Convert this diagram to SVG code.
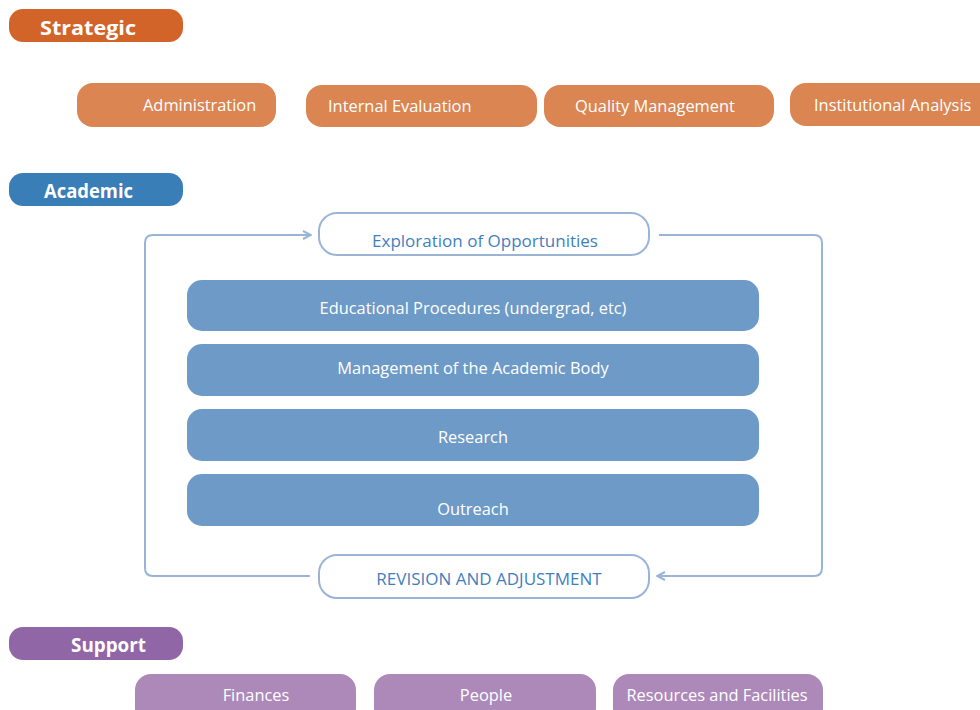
<svg xmlns="http://www.w3.org/2000/svg" width="980" height="710" viewBox="0 0 980 710">
  <style>
    text { font-family: "Open Sans", "Liberation Sans", Arial, sans-serif; fill: #ffffff; }
    .head { font-size: 20px; font-weight: bold; }
    .item { font-size: 16.4px; }
    .strat-head { fill: #D2642A; }
    .strat { fill: #DA8552; }
    .acad-head { fill: #3A7EB8; }
    .acad { fill: #6E9AC7; }
    .supp-head { fill: #9166A6; }
    .supp { fill: #AD89BA; }
    .loop-box { fill: #ffffff; stroke: #9AB4D8; stroke-width: 2; }
    .loop-text { fill: #3F7FBF; font-size: 17px; }
    .conn { fill: none; stroke: #9AB4D8; stroke-width: 2; }
  </style>
  <defs>
    <marker id="arrow" viewBox="0 0 10 10" refX="9" refY="5" markerWidth="10" markerHeight="10" markerUnits="userSpaceOnUse" orient="auto">
      <path d="M1,1 L9,5 L1,9" fill="none" stroke="#9AB4D8" stroke-width="2"/>
    </marker>
  </defs>

  <!-- Strategic tier -->
  <g id="strategic">
    <rect class="strat-head" x="9" y="9" width="174" height="33" rx="14"/>
    <text class="head" x="40" y="35" textLength="96" lengthAdjust="spacingAndGlyphs">Strategic</text>
  </g>
  <g id="administration">
    <rect class="strat" x="77" y="83" width="199" height="44" rx="16"/>
    <text class="item" x="143" y="111">Administration</text>
  </g>
  <g id="internal-evaluation">
    <rect class="strat" x="306" y="85" width="231" height="42" rx="16"/>
    <text class="item" x="328" y="112">Internal Evaluation</text>
  </g>
  <g id="quality-management">
    <rect class="strat" x="544" y="85" width="230" height="42" rx="16"/>
    <text class="item" x="575" y="112">Quality Management</text>
  </g>
  <g id="institutional-analysis">
    <rect class="strat" x="790" y="83" width="206" height="43" rx="16"/>
    <text class="item" x="814" y="111">Institutional Analysis</text>
  </g>

  <!-- Academic tier -->
  <g id="academic">
    <rect class="acad-head" x="9" y="173" width="174" height="33" rx="14"/>
    <text class="head" x="44" y="198" textLength="89" lengthAdjust="spacingAndGlyphs">Academic</text>
  </g>
  <g id="exploration">
    <rect class="loop-box" x="319" y="213" width="330" height="42" rx="18"/>
    <text class="loop-text" x="485" y="247" text-anchor="middle">Exploration of Opportunities</text>
  </g>
  <g id="educational-procedures">
    <rect class="acad" x="187" y="280" width="572" height="51" rx="15"/>
    <text class="item" x="473" y="314" text-anchor="middle">Educational Procedures (undergrad, etc)</text>
  </g>
  <g id="academic-body">
    <rect class="acad" x="187" y="344" width="572" height="52" rx="15"/>
    <text class="item" x="473" y="374" text-anchor="middle">Management of the Academic Body</text>
  </g>
  <g id="research">
    <rect class="acad" x="187" y="409" width="572" height="52" rx="15"/>
    <text class="item" x="473" y="443" text-anchor="middle">Research</text>
  </g>
  <g id="outreach">
    <rect class="acad" x="187" y="474" width="572" height="52" rx="15"/>
    <text class="item" x="473" y="515" text-anchor="middle">Outreach</text>
  </g>
  <g id="revision">
    <rect class="loop-box" x="319" y="555" width="330" height="43" rx="18"/>
    <text class="loop-text" x="489" y="585" text-anchor="middle">REVISION AND ADJUSTMENT</text>
  </g>

  <!-- Improvement loop -->
  <g id="connectors">
    <path class="conn" d="M310,576 L153,576 Q145,576 145,568 L145,243 Q145,235 153,235 L311,235" marker-end="url(#arrow)"/>
    <path class="conn" d="M659,235 L814,235 Q822,235 822,243 L822,568 Q822,576 814,576 L657,576" marker-end="url(#arrow)"/>
  </g>

  <!-- Support tier -->
  <g id="support">
    <rect class="supp-head" x="9" y="627" width="174" height="33" rx="14"/>
    <text class="head" x="71" y="652" textLength="75" lengthAdjust="spacingAndGlyphs">Support</text>
  </g>
  <g id="finances">
    <rect class="supp" x="135" y="674" width="221" height="50" rx="16"/>
    <text class="item" x="256" y="701" text-anchor="middle">Finances</text>
  </g>
  <g id="people">
    <rect class="supp" x="374" y="674" width="222" height="50" rx="16"/>
    <text class="item" x="486" y="701" text-anchor="middle">People</text>
  </g>
  <g id="resources">
    <rect class="supp" x="613" y="674" width="210" height="50" rx="16"/>
    <text class="item" x="717" y="701" text-anchor="middle">Resources and Facilities</text>
  </g>
</svg>
